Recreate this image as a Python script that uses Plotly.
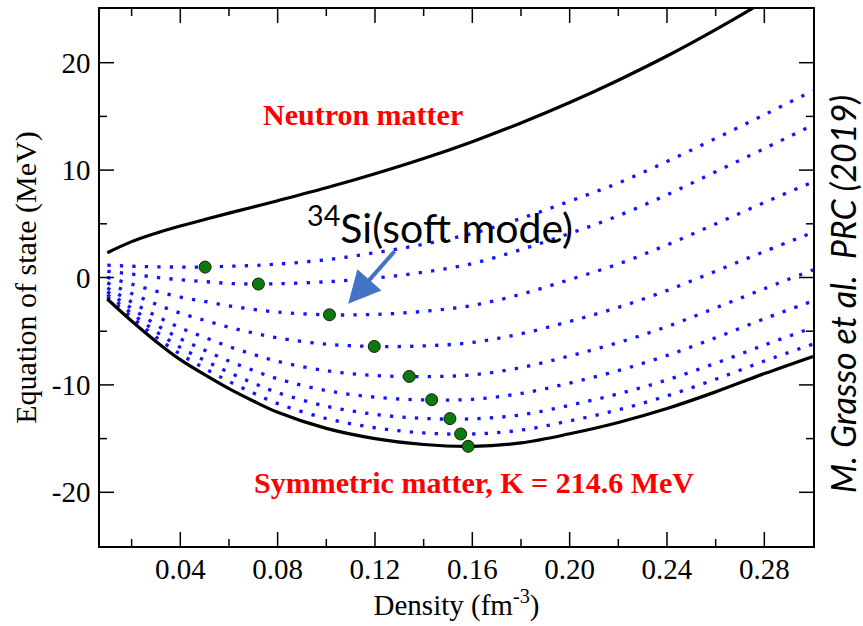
import plotly.graph_objects as go

# Density grid (fm^-3) shared by all curves
rho = [0.01, 0.02, 0.03, 0.04, 0.05, 0.06, 0.07, 0.08, 0.10, 0.12,
       0.14, 0.16, 0.18, 0.20, 0.22, 0.24, 0.26, 0.28, 0.30]

# Symmetric nuclear matter E/A (MeV)
e_snm = [-2.0, -4.05, -5.95, -7.65, -9.05, -10.35, -11.5, -12.55, -14.05, -15.0,
         -15.55, -15.72, -15.4, -14.55, -13.5, -12.2, -10.65, -8.95, -7.35]

# Pure neutron matter E/A (MeV)
e_nm = [2.31, 3.34, 4.12, 4.79, 5.40, 5.99, 6.57, 7.15, 8.35, 9.66,
        11.08, 12.65, 14.39, 16.29, 18.37, 20.62, 23.08, 25.72, 28.56]

# Asymmetric matter E/A (MeV), from most to least neutron-rich
e_asym_1 = [1.15, 1.05, 1.0, 0.97, 0.97, 1.05, 1.12, 1.25, 1.65, 2.3,
            3.1, 4.1, 5.5, 7.1, 8.8, 10.8, 12.95, 15.15, 17.4]
e_asym_2 = [0.58, 0.32, 0.02, -0.21, -0.38, -0.55, -0.61, -0.58, -0.4, -0.05,
            0.5, 1.3, 2.6, 4.1, 5.75, 7.7, 9.85, 12.0, 14.2]
e_asym_3 = [0.02, -0.62, -1.27, -1.82, -2.23, -2.64, -2.97, -3.22, -3.47, -3.44,
            -3.15, -2.6, -1.56, -0.2, 1.26, 3.03, 4.99, 6.98, 8.9]
e_asym_4 = [-0.5, -1.49, -2.48, -3.32, -3.99, -4.63, -5.17, -5.62, -6.21, -6.42,
            -6.37, -6.05, -5.24, -4.09, -2.78, -1.21, 0.59, 2.42, 4.2]
e_asym_5 = [-0.97, -2.28, -3.57, -4.69, -5.58, -6.43, -7.16, -7.81, -8.68, -9.12,
            -9.23, -9.06, -8.39, -7.3, -6.06, -4.57, -2.83, -1.04, 0.71]
e_asym_6 = [-1.32, -2.87, -4.39, -5.7, -6.77, -7.78, -8.65, -9.43, -10.53, -11.14,
            -11.4, -11.34, -10.8, -9.83, -8.67, -7.26, -5.61, -3.84, -2.19]
e_asym_7 = [-1.6, -3.34, -5.03, -6.51, -7.72, -8.84, -9.83, -10.72, -11.98, -12.74,
            -13.12, -13.16, -12.79, -11.9, -10.83, -9.54, -7.98, -6.29, -4.66]
e_asym_8 = [-1.82, -3.7, -5.54, -7.14, -8.46, -9.68, -10.76, -11.74, -13.13, -13.99,
            -14.47, -14.57, -14.21, -13.35, -12.32, -11.02, -9.47, -7.78, -6.2]

# Saturation points of each curve
sat_rho = [0.0502, 0.0721, 0.1013, 0.1197, 0.1341, 0.1433, 0.1508, 0.1552, 0.1583]
sat_e = [0.97, -0.61, -3.47, -6.42, -9.21, -11.38, -13.14, -14.57, -15.72]

# Axis ticks
x_ticks = [0.04, 0.08, 0.12, 0.16, 0.20, 0.24, 0.28]
x_tick_text = ["0.04", "0.08", "0.12", "0.16", "0.20", "0.24", "0.28"]
x_minor_ticks = [0.02, 0.06, 0.10, 0.14, 0.18, 0.22, 0.26]
y_ticks = [-20, -10, 0, 10, 20]
y_tick_text = ["-20", "-10", "0", "10", "20"]
y_minor_ticks = [-15, -5, 5, 15]
x_range = [0.007, 0.30]
y_range = [-25, 25]

SERIF = "Liberation Serif, Times New Roman, serif"
SANS = "Lato, Open Sans, sans-serif"

WIDTH, HEIGHT = 863, 626
MARGIN = dict(l=100, r=50, t=9, b=80)
plot_w = WIDTH - MARGIN["l"] - MARGIN["r"]
plot_h = HEIGHT - MARGIN["t"] - MARGIN["b"]

fig = go.Figure()

# Dotted asymmetric-matter curves
for curve in [e_asym_1, e_asym_2, e_asym_3, e_asym_4,
              e_asym_5, e_asym_6, e_asym_7, e_asym_8]:
    fig.add_trace(go.Scatter(
        x=rho, y=curve, mode="lines",
        line=dict(color="#1414ff", width=3.3, dash="3.3px,9.2px", shape="spline"),
        hoverinfo="skip", showlegend=False))

# Solid neutron / symmetric matter curves
for curve in [e_snm, e_nm]:
    fig.add_trace(go.Scatter(
        x=rho, y=curve, mode="lines",
        line=dict(color="black", width=3.2, shape="spline"),
        showlegend=False))

# Saturation points
fig.add_trace(go.Scatter(
    x=sat_rho, y=sat_e, mode="markers",
    marker=dict(color="#0c7a0c", size=12, line=dict(color="#1a1a1a", width=1)),
    showlegend=False))

# Inward tick marks on all four frame sides, as one line trace of short segments
px_x = (x_range[1] - x_range[0]) / plot_w   # data units per pixel, x
px_y = (y_range[1] - y_range[0]) / plot_h   # data units per pixel, y
tick_x, tick_y = [], []
for vals, length in [(x_ticks, 14), (x_minor_ticks, 7)]:
    for v in vals:
        tick_x += [v, v, None, v, v, None]
        tick_y += [y_range[0], y_range[0] + length * px_y, None,
                   y_range[1], y_range[1] - length * px_y, None]
for vals, length in [(y_ticks, 14), (y_minor_ticks, 7)]:
    for v in vals:
        tick_x += [x_range[0], x_range[0] + length * px_x, None,
                   x_range[1], x_range[1] - length * px_x, None]
        tick_y += [v, v, None, v, v, None]
fig.add_trace(go.Scatter(
    x=tick_x, y=tick_y, mode="lines", connectgaps=False,
    line=dict(color="#000000", width=1.5),
    hoverinfo="skip", showlegend=False))

fig.update_layout(
    xaxis=dict(
        range=x_range, tickmode="array", tickvals=x_ticks, ticktext=x_tick_text,
        ticks="", showline=True, linecolor="#000000", linewidth=1.5, mirror=True,
        showgrid=False, zeroline=False, automargin=False,
        tickfont=dict(family=SERIF, size=29, color="black"),
        ticklabelstandoff=-4,
        title=dict(text="Density (fm<sup>-3</sup>)",
                   font=dict(family=SERIF, size=29, color="black"), standoff=4),
    ),
    yaxis=dict(
        range=y_range, tickmode="array", tickvals=y_ticks, ticktext=y_tick_text,
        ticks="", showline=True, linecolor="#000000", linewidth=1.5, mirror=True,
        showgrid=False, zeroline=False, automargin=False,
        tickfont=dict(family=SERIF, size=29, color="black"),
        ticklabelstandoff=2,
        title=dict(text="Equation of state (MeV)",
                   font=dict(family=SERIF, size=30, color="black"), standoff=6),
    ),
)

# Curve labels
fig.add_annotation(x=0.1151, y=15.2, text="<b>Neutron matter</b>", showarrow=False,
                   font=dict(family=SERIF, size=30, color="#ff0000"))
fig.add_annotation(x=0.1607, y=-19.1, text="<b>Symmetric matter, K = 214.6 MeV</b>",
                   showarrow=False, font=dict(family=SERIF, size=30, color="#ff0000"))

# 34Si label and arrow
fig.add_annotation(x=0.0913, y=4.85, xanchor="left", text="<sup>34</sup>Si(soft mode)",
                   showarrow=False, font=dict(family=SANS, size=41, color="black"))
fig.add_annotation(x=0.109, y=-2.45, ax=0.1286, ay=2.58, axref="x", ayref="y",
                   text="", showarrow=True, arrowhead=2, arrowsize=1.6,
                   arrowwidth=4, arrowcolor="#4472c4")

# Reference credit along the right side
fig.add_annotation(xref="paper", yref="paper", x=1.0416, y=0.468,
                   text="<i>M. Grasso et al.  PRC (2019)</i>", textangle=-90,
                   showarrow=False, xanchor="center", yanchor="middle",
                   font=dict(family=SANS, size=34, color="black"))

fig.update_layout(
    width=WIDTH, height=HEIGHT,
    margin=MARGIN,
    plot_bgcolor="white", paper_bgcolor="white",
)

fig.write_html("out.html")
